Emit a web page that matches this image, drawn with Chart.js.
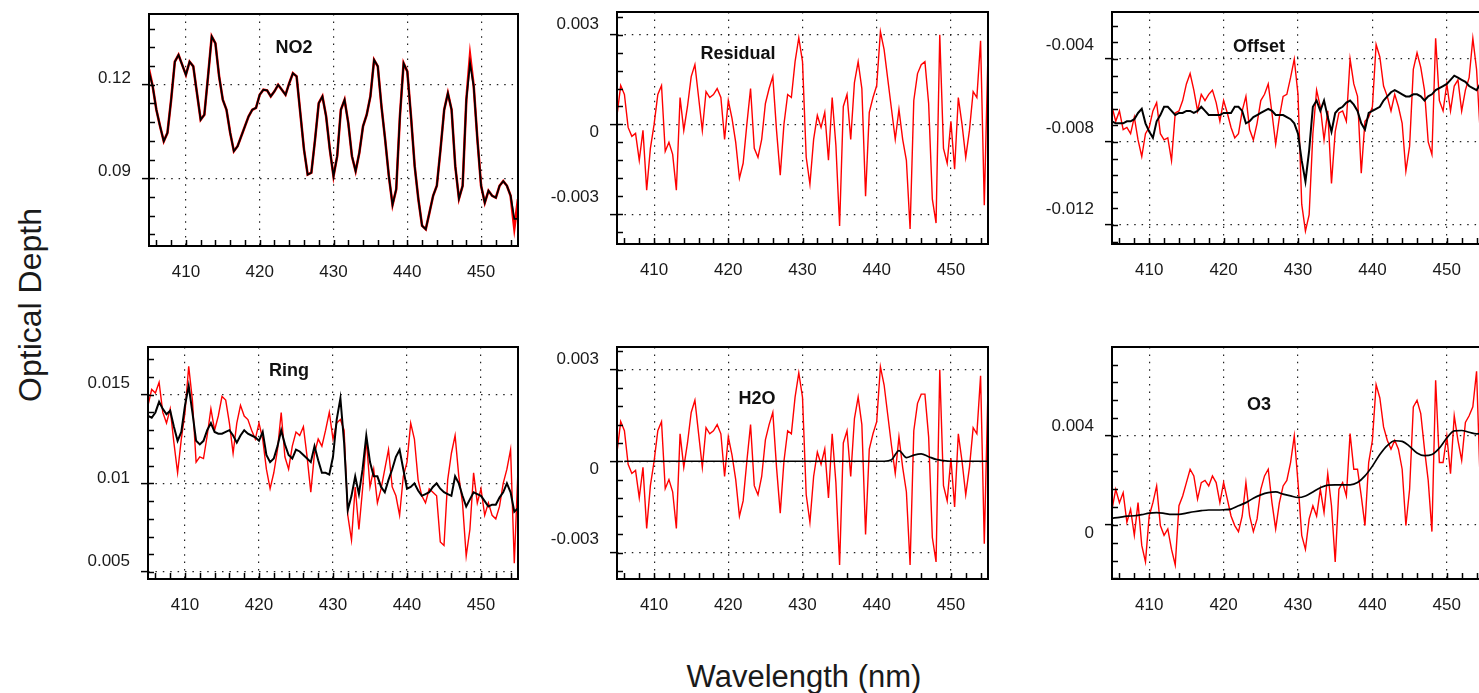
<!DOCTYPE html>
<html>
<head>
<meta charset="utf-8">
<script src="https://cdn.jsdelivr.net/npm/chart.js@4.4.1/dist/chart.umd.min.js"></script>
<style>
html,body{margin:0;padding:0;background:#fff;width:1479px;height:693px;overflow:hidden;position:relative;font-family:'Liberation Sans',Arial,sans-serif;}
.panel{position:absolute;}
.ttl{position:absolute;font-weight:bold;font-size:18px;color:#111;transform:translate(-50%,-50%);white-space:nowrap;}
.axt{position:absolute;color:#1a1a1a;white-space:nowrap;transform:translate(-50%,-50%);}
</style>
</head>
<body>
<script>
// ---------- DATA ----------
const wl = [405,405.5,406,406.5,407,407.5,408,408.5,409,409.5,
410,410.5,411,411.5,412,412.5,413,413.5,414,414.5,
415,415.5,416,416.5,417,417.5,418,418.5,419,419.5,
420,420.5,421,421.5,422,422.5,423,423.5,424,424.5,
425,425.5,426,426.5,427,427.5,428,428.5,429,429.5,
430,430.5,431,431.5,432,432.5,433,433.5,434,434.5,
435,435.5,436,436.5,437,437.5,438,438.5,439,439.5,
440,440.5,441,441.5,442,442.5,443,443.5,444,444.5,
445,445.5,446,446.5,447,447.5,448,448.5,449,449.5,
450,450.5,451,451.5,452,452.5,453,453.5,454,454.5,455];
const wl1 = [405,406,407,408,409,410,411,412,413,414,415,416,417,418,419,420,421,422,423,424,425,426,427,428,429,430,
431,432,433,434,435,436,437,438,439,440,441,442,443,444,445,446,447,448,449,450,451,452,453,454,455];

const xMajorTicks = [410,420,430,440,450];

const no2Measured = [0.1250,0.1195,0.1120,0.1067,0.1019,0.1046,0.1152,0.1274,0.1296,0.1264,
0.1232,0.1274,0.1259,0.1173,0.1088,0.1104,0.1227,0.1355,0.1333,0.1227,
0.1152,0.1120,0.1046,0.0987,0.1003,0.1035,0.1067,0.1099,0.1120,0.1126,
0.1168,0.1184,0.1182,0.1163,0.1179,0.1200,0.1184,0.1168,0.1205,0.1237,
0.1227,0.1110,0.0993,0.0912,0.0918,0.1024,0.1141,0.1163,0.1099,0.0993,
0.0907,0.0971,0.1120,0.1152,0.1078,0.0971,0.0923,0.0982,0.1067,0.1104,
0.1163,0.1280,0.1259,0.1131,0.1024,0.0907,0.0815,0.0865,0.1099,0.1269,
0.1243,0.1099,0.0939,0.0833,0.0748,0.0737,0.0790,0.0844,0.0876,0.0993,
0.1120,0.1173,0.1120,0.0939,0.0835,0.0876,0.1152,0.1295,0.1195,0.1024,
0.0876,0.0822,0.0860,0.0844,0.0838,0.0876,0.0891,0.0876,0.0844,0.0740,0.0833];
const no2Fit = [0.1243,0.1195,0.1120,0.1067,0.1019,0.1046,0.1152,0.1274,0.1296,0.1264,
0.1232,0.1274,0.1259,0.1173,0.1088,0.1104,0.1227,0.1355,0.1333,0.1227,
0.1152,0.1120,0.1046,0.0987,0.1003,0.1035,0.1067,0.1099,0.1120,0.1126,
0.1168,0.1184,0.1182,0.1163,0.1179,0.1200,0.1184,0.1168,0.1205,0.1237,
0.1227,0.1110,0.0993,0.0912,0.0918,0.1024,0.1141,0.1163,0.1099,0.0993,
0.0907,0.0971,0.1120,0.1152,0.1078,0.0971,0.0923,0.0982,0.1067,0.1104,
0.1163,0.1280,0.1259,0.1131,0.1024,0.0907,0.0815,0.0865,0.1099,0.1269,
0.1243,0.1099,0.0939,0.0833,0.0748,0.0737,0.0790,0.0844,0.0876,0.0993,
0.1120,0.1173,0.1120,0.0939,0.0835,0.0876,0.1152,0.1269,0.1195,0.1024,
0.0876,0.0822,0.0860,0.0844,0.0838,0.0876,0.0891,0.0876,0.0844,0.0770,0.0770];

const residual = [0.0003,0.0013,0.0010,-0.0001,-0.0004,-0.0003,-0.0012,-0.0002,-0.0022,-0.0008,
0.0000,0.0010,0.0013,-0.0009,-0.0006,-0.0010,-0.0022,0.0009,-0.0002,0.0006,
0.0016,0.0020,0.0009,-0.0002,0.0011,0.0009,0.0010,0.0012,0.0009,-0.0005,
0.0008,0.0002,-0.0006,-0.0018,-0.0013,0.0000,0.0012,-0.0008,-0.0011,-0.0005,
0.0007,0.0012,0.0016,-0.0002,-0.0017,0.0000,0.0010,0.0009,0.0021,0.0029,
0.0021,-0.0011,-0.0020,-0.0005,0.0003,-0.0001,0.0004,-0.0012,0.0009,-0.0007,
-0.0034,0.0006,0.0010,-0.0005,0.0014,0.0021,0.0012,-0.0024,0.0004,0.0009,
0.0013,0.0031,0.0025,0.0015,0.0005,-0.0005,0.0005,-0.0005,-0.0012,-0.0035,
0.0008,0.0017,0.0020,0.0021,0.0007,-0.0025,-0.0033,0.0030,-0.0008,-0.0013,
0.0001,-0.0015,0.0009,0.0000,-0.0011,-0.0002,0.0011,0.0009,0.0028,-0.0027,0.0024];

const offsetMeasured = [-0.0063,-0.0070,-0.0065,-0.0074,-0.0073,-0.0076,-0.0068,-0.0079,-0.0087,-0.0076,
-0.0073,-0.0065,-0.0061,-0.0076,-0.0079,-0.0078,-0.0089,-0.0066,-0.0065,-0.0060,
-0.0052,-0.0047,-0.0055,-0.0065,-0.0057,-0.0060,-0.0057,-0.0055,-0.0061,-0.0070,
-0.0060,-0.0066,-0.0073,-0.0078,-0.0076,-0.0065,-0.0058,-0.0074,-0.0079,-0.0071,
-0.0060,-0.0057,-0.0052,-0.0066,-0.0081,-0.0068,-0.0058,-0.0057,-0.0049,-0.0040,
-0.0057,-0.0110,-0.0123,-0.0115,-0.0076,-0.0055,-0.0063,-0.0079,-0.0065,-0.0100,
-0.0075,-0.0066,-0.0065,-0.0070,-0.0040,-0.0052,-0.0058,-0.0095,-0.0070,-0.0068,
-0.0063,-0.0033,-0.0039,-0.0053,-0.0058,-0.0065,-0.0057,-0.0063,-0.0071,-0.0094,
-0.0082,-0.0045,-0.0037,-0.0044,-0.0055,-0.0080,-0.0086,-0.0030,-0.0060,-0.0065,
-0.0052,-0.0065,-0.0053,-0.0050,-0.0065,-0.0055,-0.0049,-0.0030,-0.0045,-0.0076,-0.0063];
const offsetFit = [-0.0070,-0.0071,-0.0071,-0.0071,-0.0070,-0.0070,-0.0069,-0.0066,-0.0064,-0.0071,
-0.0075,-0.0078,-0.0070,-0.0067,-0.0063,-0.0063,-0.0065,-0.0067,-0.0066,-0.0066,
-0.0065,-0.0065,-0.0066,-0.0065,-0.0063,-0.0065,-0.0067,-0.0067,-0.0067,-0.0067,
-0.0066,-0.0066,-0.0066,-0.0063,-0.0063,-0.0065,-0.0071,-0.0070,-0.0068,-0.0067,
-0.0066,-0.0065,-0.0064,-0.0065,-0.0067,-0.0067,-0.0067,-0.0068,-0.0069,-0.0071,
-0.0076,-0.0089,-0.0099,-0.0084,-0.0063,-0.0060,-0.0065,-0.0060,-0.0068,-0.0075,
-0.0066,-0.0064,-0.0063,-0.0061,-0.0060,-0.0062,-0.0065,-0.0071,-0.0074,-0.0066,
-0.0065,-0.0064,-0.0063,-0.0060,-0.0058,-0.0056,-0.0055,-0.0056,-0.0057,-0.0058,
-0.0058,-0.0057,-0.0057,-0.0058,-0.0060,-0.0058,-0.0057,-0.0055,-0.0054,-0.0053,
-0.0052,-0.0050,-0.0048,-0.0049,-0.0050,-0.0051,-0.0053,-0.0054,-0.0055,-0.0052,-0.0050];

const ringMeasured = [0.0144,0.0153,0.0151,0.0157,0.0140,0.0134,0.0142,0.0123,0.0106,0.0125,
0.0140,0.0166,0.0147,0.0112,0.0115,0.0114,0.0127,0.0142,0.0130,0.0138,
0.0149,0.0147,0.0134,0.0117,0.0134,0.0144,0.0138,0.0136,0.0130,0.0125,
0.0134,0.0125,0.0108,0.0097,0.0106,0.0119,0.0140,0.0115,0.0108,0.0121,
0.0129,0.0127,0.0132,0.0115,0.0095,0.0117,0.0125,0.0121,0.0130,0.0140,
0.0125,0.0134,0.0136,0.0130,0.0082,0.0068,0.0098,0.0074,0.0097,0.0125,
0.0098,0.0108,0.0089,0.0097,0.0108,0.0119,0.0098,0.0093,0.0082,0.0104,
0.0112,0.0134,0.0125,0.0102,0.0093,0.0089,0.0097,0.0095,0.0093,0.0067,
0.0065,0.0102,0.0117,0.0127,0.0104,0.0089,0.0059,0.0074,0.0106,0.0089,
0.0097,0.0082,0.0089,0.0082,0.0080,0.0087,0.0100,0.0108,0.0119,0.0055,0.0108];
const ringFit = [0.0138,0.0137,0.0140,0.0146,0.0142,0.0139,0.0141,0.0132,0.0124,0.0129,
0.0144,0.0155,0.0140,0.0124,0.0122,0.0124,0.0130,0.0134,0.0129,0.0128,
0.0128,0.0129,0.0130,0.0127,0.0123,0.0127,0.0130,0.0128,0.0127,0.0126,
0.0124,0.0129,0.0116,0.0112,0.0114,0.0121,0.0130,0.0122,0.0116,0.0114,
0.0119,0.0118,0.0116,0.0114,0.0112,0.0121,0.0113,0.0106,0.0106,0.0105,
0.0115,0.0136,0.0148,0.0123,0.0085,0.0093,0.0104,0.0094,0.0108,0.0127,
0.0112,0.0104,0.0104,0.0098,0.0095,0.0102,0.0108,0.0115,0.0119,0.0108,
0.0097,0.0098,0.0100,0.0096,0.0093,0.0094,0.0095,0.0098,0.0100,0.0097,
0.0095,0.0094,0.0093,0.0104,0.0100,0.0093,0.0087,0.0091,0.0095,0.0094,
0.0093,0.0090,0.0087,0.0088,0.0088,0.0092,0.0095,0.0100,0.0095,0.0084,0.0086];

const h2oMeasured = [0.0003,0.0013,0.0010,-0.0001,-0.0004,-0.0003,-0.0012,-0.0002,-0.0022,-0.0008,
0.0000,0.0010,0.0013,-0.0009,-0.0006,-0.0010,-0.0022,0.0009,-0.0002,0.0006,
0.0016,0.0020,0.0009,-0.0002,0.0011,0.0009,0.0010,0.0012,0.0009,-0.0005,
0.0008,0.0002,-0.0006,-0.0018,-0.0013,0.0000,0.0012,-0.0008,-0.0011,-0.0005,
0.0007,0.0012,0.0016,-0.0002,-0.0017,0.0000,0.0010,0.0009,0.0021,0.0029,
0.0021,-0.0011,-0.0020,-0.0005,0.0003,-0.0001,0.0004,-0.0012,0.0009,-0.0007,
-0.0034,0.0006,0.0010,-0.0005,0.0014,0.0021,0.0012,-0.0024,0.0004,0.0009,
0.0013,0.0031,0.0025,0.0015,0.0005,-0.0004,0.0008,-0.0002,-0.0010,-0.0034,
0.0010,0.0019,0.0022,0.0022,0.0008,-0.0025,-0.0033,0.0030,-0.0008,-0.0013,
0.0001,-0.0015,0.0009,0.0000,-0.0011,-0.0002,0.0011,0.0009,0.0028,-0.0027,0.0024];
const h2oFit = [null,0,0,0,0,0,0,0,0,0,0,0,0,0,0,0,0,0,0,0,0,0,0,0,0,0,
0,0,0,0,0,0,0,0,0,0,0,0.00005,0.00035,0.00012,0.0002,0.00024,0.00015,0.00006,0.00002,0,0,0,0,0,0];

const o3Measured = [0.0007,0.0016,0.0010,0.00145,0.00012,0.0007,-0.00047,0.0010,-0.00092,-0.00166,
0.0004,0.0010,0.00175,-0.00003,-0.00047,-0.00018,-0.0011,-0.0018,0.00086,0.0013,
0.0019,0.0025,0.0022,0.00116,0.0019,0.0020,0.00175,0.0022,0.0019,0.0010,
0.0019,0.00116,0.0004,-0.00003,-0.0003,0.0004,0.0019,0.0004,-0.0003,0.00027,
0.0016,0.0022,0.0025,0.0010,-0.00018,0.0010,0.00175,0.0020,0.0028,0.0040,
0.0019,-0.00047,-0.0011,0.00027,0.00086,0.0004,0.0016,0.00056,0.0023,0.00086,
-0.00166,0.0016,0.0019,0.0013,0.0041,0.0025,0.0025,0.0013,-0.00003,0.0028,
0.0038,0.0063,0.0057,0.0044,0.0038,0.0034,0.0038,0.0034,0.0025,-0.00003,
0.0016,0.0053,0.0056,0.0050,0.0034,0.0020,-0.0003,0.0065,0.0028,0.0028,
0.0040,0.0023,0.0049,0.0038,0.0029,0.0046,0.0049,0.0053,0.0069,0.00175,0.0045];
const o3Fit = [0.00030,0.00034,0.00039,0.00041,0.00046,0.00053,0.00055,0.00052,0.00047,0.00047,
0.00053,0.00059,0.00064,0.00067,0.00067,0.00068,0.00071,0.00086,0.00100,0.00120,
0.00135,0.00145,0.00148,0.00138,0.00130,0.00123,0.00130,0.00148,0.00167,0.00179,
0.00180,0.00180,0.00180,0.00190,0.00220,0.00264,0.00316,0.00356,0.00378,0.00375,
0.00353,0.00323,0.00311,0.00316,0.00345,0.00390,0.00422,0.00424,0.00416,0.00409,0.00410];

// ---------- LAYOUT / STYLE ----------
const FONT = "'Liberation Sans', Arial, sans-serif";
const YW = 90, PT = 50, PR = 6, XH = 50;
const RED = '#ff0000', BLACK = '#000000';

function pts(xs, ys) { return xs.map((x, i) => ({x: x, y: ys[i]})); }

const panels = [
  {title:'NO2', tx:294, ty:47, left:149, top:14, w:369, h:232, ymin:0.0683, ymax:0.1427,
   yMajors:[0.09,0.12], yStep:0.006, shifts:{'0.12':-6,'0.09':-6.6},
   sets:[{d:pts(wl,no2Measured),c:RED,bw:2.6},{d:pts(wl,no2Fit),c:BLACK,bw:1.8}]},
  {title:'Residual', tx:738, ty:53, left:617, top:12, w:371, h:232, ymin:-0.0040, ymax:0.00376,
   yMajors:[-0.003,0,0.003], yStep:0.0006, shifts:{'0.003':-10,'0':7.6,'-0.003':-16.6},
   sets:[{d:pts(wl,residual),c:RED,bw:1.4}]},
  {title:'Offset', tx:1259, ty:46, left:1112, top:12, w:372, h:232, ymin:-0.01292, ymax:-0.00173,
   yMajors:[-0.012,-0.008,-0.004], yStep:0.0008, shifts:{'-0.004':-14,'-0.008':-13.4,'-0.012':-16},
   sets:[{d:pts(wl,offsetMeasured),c:RED,bw:1.4},{d:pts(wl,offsetFit),c:BLACK,bw:2}]},
  {title:'Ring', tx:289, ty:370, left:148, top:347, w:370, h:232, ymin:0.00461, ymax:0.01769,
   yMajors:[0.005,0.01,0.015], yStep:0.001, shifts:{'0.015':-11.7,'0.01':-4.7,'0.005':-10.6},
   sets:[{d:pts(wl,ringMeasured),c:RED,bw:1.4},{d:pts(wl,ringFit),c:BLACK,bw:2}]},
  {title:'H2O', tx:757, ty:398, left:617, top:347, w:371, h:232, ymin:-0.00386, ymax:0.003746,
   yMajors:[-0.003,0,0.003], yStep:0.0006, shifts:{'0.003':-10,'0':7.7,'-0.003':-13.4},
   sets:[{d:pts(wl,h2oMeasured),c:RED,bw:1.4},{d:pts(wl1,h2oFit),c:BLACK,bw:1.7,smooth:true}]},
  {title:'O3', tx:1259, ty:404, left:1112, top:347, w:372, h:232, ymin:-0.00243, ymax:0.00799,
   yMajors:[0,0.004], yStep:0.0008, shifts:{'0.004':-10,'0':8.3},
   sets:[{d:pts(wl,o3Measured),c:RED,bw:1.4},{d:pts(wl1,o3Fit),c:BLACK,bw:1.7,smooth:true}]}
];

const framePlugin = {
  id: 'frame',
  afterDatasetsDraw(chart, args, o) {
    const {ctx, chartArea: a, scales: {x, y}} = chart;
    ctx.save();
    ctx.strokeStyle = '#000';
    ctx.lineWidth = 1.5;
    for (let v = o.xStart; v <= x.max + 1e-9; v += o.xStep) {
      const px = Math.round(x.getPixelForValue(v)) + 0.5;
      ctx.beginPath(); ctx.moveTo(px, a.bottom); ctx.lineTo(px, a.bottom - 6); ctx.stroke();
    }
    const k0 = Math.ceil(y.min / o.yStep - 1e-6), k1 = Math.floor(y.max / o.yStep + 1e-6);
    for (let k = k0; k <= k1; k++) {
      const py = Math.round(y.getPixelForValue(k * o.yStep)) + 0.5;
      ctx.beginPath(); ctx.moveTo(a.left, py); ctx.lineTo(a.left + 6, py); ctx.stroke();
    }
    ctx.lineWidth = 2;
    ctx.strokeRect(a.left, a.top, a.right - a.left, a.bottom - a.top);
    ctx.restore();
  }
};

panels.forEach((p) => {
  const div = document.createElement('div');
  div.className = 'panel';
  const W = YW + p.w + PR, H = PT + p.h + XH;
  div.style.left = (p.left - YW) + 'px';
  div.style.top = (p.top - PT) + 'px';
  div.style.width = W + 'px';
  div.style.height = H + 'px';
  const cv = document.createElement('canvas');
  cv.width = W; cv.height = H;
  cv.style.width = W + 'px'; cv.style.height = H + 'px';
  div.appendChild(cv);
  document.body.appendChild(div);

  const t = document.createElement('div');
  t.className = 'ttl';
  t.textContent = p.title;
  t.style.left = p.tx + 'px';
  t.style.top = p.ty + 'px';
  document.body.appendChild(t);

  new Chart(cv, {
    type: 'line',
    data: {
      datasets: p.sets.map((s, i) => ({
        data: s.d, borderColor: s.c, borderWidth: s.bw, pointRadius: 0,
        order: p.sets.length - i,
        fill: false, tension: s.smooth ? 0.4 : 0,
        cubicInterpolationMode: s.smooth ? 'monotone' : 'default'
      }))
    },
    options: {
      responsive: false, animation: false, devicePixelRatio: 1,
      layout: {padding: {top: PT, right: PR, left: 0, bottom: 0}},
      plugins: {legend: {display: false}, tooltip: {enabled: false}, title: {display: false},
        frame: {xStart: 406, xStep: 2, yStep: p.yStep}},
      scales: {
        x: {
          type: 'linear', min: 405, max: 455,
          afterBuildTicks: (s) => { s.ticks = xMajorTicks.map(v => ({value: v})); },
          afterFit: (s) => { s.height = XH; },
          grid: {color: '#222', lineWidth: 1.2, drawTicks: false},
          border: {display: false, dash: [1.5, 5.9]},
          ticks: {color: '#1a1a1a', padding: 16, autoSkip: false, maxRotation: 0,
            font: {family: FONT, size: 17}, callback: (v) => String(v)}
        },
        y: {
          type: 'linear', min: p.ymin, max: p.ymax,
          afterBuildTicks: (s) => { s.ticks = p.yMajors.map(v => ({value: v})); },
          afterFit: (s) => { s.width = YW; },
          grid: {color: '#222', lineWidth: 1.2, drawTicks: true, tickLength: 7,
            tickColor: '#000', tickWidth: 1.5, tickBorderDash: []},
          border: {display: false, dash: [1.5, 5.9]},
          ticks: {
            color: '#1a1a1a', padding: 11, autoSkip: false,
            font: (c) => {
              const v = c && c.tick ? c.tick.value : null;
              const s = v === null ? 0 : (p.shifts[String(v)] || 0);
              return {family: FONT, size: 17, lineHeight: Math.abs(s) >= 0.5 ? (2 * Math.abs(s)) + 'px' : 1.2};
            },
            callback: (v) => {
              const s = p.shifts[String(v)] || 0;
              const txt = String(v);
              if (Math.abs(s) < 0.5) return txt;
              return s < 0 ? [txt, ''] : ['', txt];
            }
          }
        }
      }
    },
    plugins: [framePlugin]
  });
});

const yt = document.createElement('div');
yt.className = 'axt';
yt.textContent = 'Optical Depth';
yt.style.fontSize = '32px';
yt.style.left = '30px'; yt.style.top = '305px';
yt.style.transform = 'translate(-50%,-50%) rotate(-90deg)';
document.body.appendChild(yt);

const xt = document.createElement('div');
xt.className = 'axt';
xt.textContent = 'Wavelength (nm)';
xt.style.fontSize = '31px';
xt.style.left = '804px'; xt.style.top = '677px';
document.body.appendChild(xt);
</script>
</body>
</html>
